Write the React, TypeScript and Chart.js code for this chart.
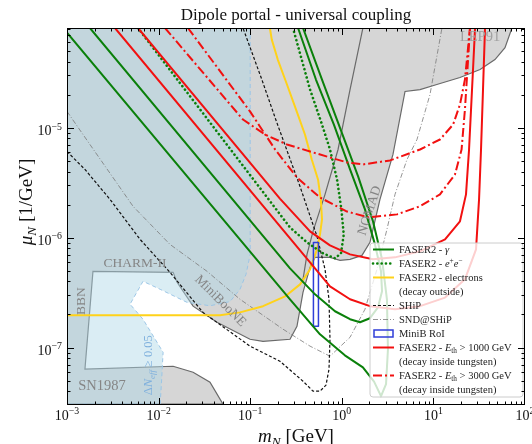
import React, { useEffect, useRef } from 'react';
import { Chart, registerables } from 'chart.js';

Chart.register(...registerables);

const FONT = '"Liberation Serif", "Times New Roman", serif';

// ---------- axes ----------
const X_MIN = 1e-3;
const X_MAX = 100;
const Y_MIN = 3.05e-8;
const Y_MAX = 8.1e-5;
const xLabeledTicks = [1e-3, 1e-2, 1e-1, 1, 10, 100];
const xTickExponents = ['−3', '−2', '−1', '0', '1', '2'];
const yLabeledTicks = [1e-7, 1e-6, 1e-5];
const yTickExponents = ['−7', '−6', '−5'];
const xDecades = [-3, -2, -1, 0, 1];
const yDecades = [-8, -7, -6, -5];

// ---------- excluded regions ----------
const greyExcludedRegion = [
  [1e-3, 8.1e-5], [1e-3, 3.05e-8], [0.0505, 3.05e-8], [0.0364, 4.84e-8], [0.0238, 5.96e-8],
  [0.0144, 6.76e-8], [0.00157, 6.35e-8], [0.00192, 4.94e-7], [0.0144, 4.84e-7], [0.0159, 3.93e-7],
  [0.0238, 2.38e-7], [0.0434, 1.7e-7], [0.0995, 1.19e-7], [0.138, 1.14e-7], [0.272, 1.19e-7],
  [0.324, 1.56e-7], [0.377, 3.18e-7], [0.45, 5.37e-7], [0.51, 6.62e-7], [0.743, 6.62e-7],
  [0.957, 6.22e-7], [1.23, 6.35e-7], [1.66, 6.9e-7], [2.03, 9.06e-7], [2.61, 2.23e-6],
  [3.62, 5.72e-6], [4.9, 2.14e-5], [7.14, 2.23e-5], [10.9, 2.48e-5], [19.5, 2.87e-5],
  [32.3, 3.39e-5], [47.0, 4.18e-5], [60.5, 5.37e-5], [72, 8.1e-5],
];
const nomadEdge = [
  [1.7, 8.1e-5], [1.23, 2.23e-5], [0.91, 6.35e-6], [0.656, 2.48e-6], [0.485, 1.14e-6],
  [0.417, 7.05e-7], [0.377, 4.18e-7],
];
const deltaNeffRegion = [
  [0.1, 8.1e-5], [0.1, 7.05e-7], [0.09, 4.64e-7], [0.0774, 3.39e-7], [0.0602, 2.62e-7],
  [0.0364, 2.4e-7], [0.0204, 2.58e-7], [0.0104, 3.39e-7], [0.00676, 4.01e-7], [0.00488, 2.48e-7],
  [0.00676, 1.81e-7], [0.0112, 9.06e-8], [0.0108, 5.15e-8], [0.0104, 3.05e-8], [1e-3, 3.05e-8],
  [1e-3, 8.1e-5],
];

// ---------- sensitivity curves ----------
const faser2GammaOuter = [
  [1e-3, 7.35e-5], [0.272, 2.75e-7], [0.578, 1.32e-7], [1.08, 8.5e-8], [1.7, 6.6e-8],
  [2.25, 4.9e-8], [2.68, 3.61e-8], [3.04, 4.64e-8], [3.19, 9.66e-8], [3.11, 2.75e-7],
  [2.75, 6.35e-7], [2.19, 1.41e-6], [1.51, 3.6e-6], [0.99, 9.25e-6], [0.608, 2.75e-5], [0.377, 8.1e-5],
];
const faser2GammaInner = [
  [1.78e-3, 8.1e-5], [0.272, 5.26e-7], [0.51, 3.05e-7], [0.843, 2.14e-7], [1.23, 1.81e-7],
  [1.58, 1.7e-7], [2.03, 1.85e-7], [2.48, 2.32e-7], [2.75, 3.25e-7], [2.68, 4.94e-7],
  [2.3, 8.69e-7], [1.79, 1.81e-6], [1.23, 4.18e-6], [0.82, 1.07e-5], [0.522, 2.75e-5], [0.333, 8.1e-5],
];
const faser2EE = [
  [5.96e-3, 8.1e-5], [0.272, 1.24e-6], [0.417, 9.06e-7], [0.624, 7.2e-7], [0.843, 6.49e-7],
  [0.98, 7.2e-7], [1.05, 1.07e-6], [0.99, 1.81e-6], [0.887, 3.39e-6], [0.743, 6.35e-6],
  [0.608, 1.07e-5], [0.45, 2.23e-5], [0.293, 8.1e-5],
];
const faser2Electrons = [
  [1e-3, 1.97e-7], [0.0468, 1.97e-7], [0.0774, 2.09e-7], [0.138, 2.38e-7], [0.24, 2.92e-7],
  [0.35, 3.76e-7], [0.45, 5.15e-7], [0.536, 7.83e-7], [0.578, 1.07e-6], [0.608, 1.47e-6],
  [0.59, 2.23e-6], [0.55, 3.39e-6], [0.47, 5.15e-6], [0.396, 8.69e-6], [0.316, 1.47e-5],
  [0.252, 2.48e-5], [0.2, 4.18e-5], [0.172, 6.35e-5], [0.164, 8.1e-5],
];
const ship = [
  [1e-3, 6.09e-6], [1.57e-3, 4.18e-6], [2.95e-3, 2.23e-6], [6.27e-3, 9.66e-7], [0.0133, 4.84e-7],
  [0.0305, 2.09e-7], [0.0995, 1.03e-7], [0.211, 7.51e-8], [0.377, 4.94e-8], [0.485, 4.01e-8],
  [0.578, 4.01e-8], [0.672, 4.55e-8], [0.725, 6.35e-8], [0.743, 1.19e-7], [0.725, 2.75e-7],
  [0.656, 5.15e-7], [0.536, 1.03e-6], [0.35, 2.92e-6], [0.19, 1.19e-5], [0.134, 2.75e-5], [0.0834, 8.1e-5],
];
const sndShip = [
  [1e-3, 1.41e-5], [1.78e-3, 7.05e-6], [5.26e-3, 1.93e-6], [0.0133, 8.69e-7], [0.0338, 4.94e-7],
  [0.0774, 2.75e-7], [0.228, 1.47e-7], [0.45, 1.03e-7], [0.743, 8.34e-8], [1.23, 1.24e-7],
  [1.79, 2.23e-7], [2.42, 5.15e-7], [3.11, 1.19e-6], [3.81, 2.48e-6], [5.15, 5.15e-6],
  [6.62, 7.83e-6], [9.18, 2.01e-5], [12.4, 8.1e-5],
];
const faser2E1000Outer = [
  [3.34e-3, 8.1e-5], [0.35, 7.67e-7], [0.743, 3.61e-7], [1.23, 2.75e-7], [2.03, 2.38e-7],
  [3.81, 2.23e-7], [7.14, 2.38e-7], [13.4, 2.85e-7], [22.1, 4.18e-7], [29.2, 7.83e-7],
  [31.5, 2.23e-6], [33.1, 6.35e-6], [34.8, 2.23e-5], [36.6, 8.1e-5],
];
const faser2E1000Inner = [
  [5.96e-3, 8.1e-5], [0.211, 2.27e-6], [0.45, 1.14e-6], [0.743, 8.5e-7], [1.23, 7.05e-7],
  [2.19, 6.35e-7], [3.81, 6.62e-7], [7.14, 7.51e-7], [13.4, 9.66e-7], [19.5, 1.41e-6],
  [22.7, 2.48e-6], [24.5, 6.35e-6], [26.4, 2.23e-5], [28.5, 8.1e-5],
];
const faser2E3000Outer = [
  [0.01175, 8.1e-5], [0.0834, 1.19e-5], [0.145, 8.69e-6], [0.252, 7.05e-6], [0.485, 5.97e-6],
  [1.14, 4.84e-6], [1.7, 4.64e-6], [3.36, 5.05e-6], [7.14, 6.35e-6], [11.8, 7.83e-6],
  [16.4, 1.07e-5], [19.5, 1.63e-5], [22.1, 2.75e-5], [25.1, 8.1e-5],
];
const faser2E3000Inner = [
  [0.0209, 8.1e-5], [0.0995, 1.41e-5], [0.187, 6.35e-6], [0.324, 3.53e-6], [0.578, 2.32e-6],
  [1.14, 1.73e-6], [1.95, 1.53e-6], [4.01, 1.63e-6], [7.14, 1.93e-6], [11.8, 2.48e-6],
  [17.2, 3.76e-6], [20.3, 6.35e-6], [22.1, 1.47e-5], [23.9, 4.18e-5], [25.1, 8.1e-5],
];
const miniBRoiX = [0.49, 0.556];
const miniBRoiY = [1.56e-7, 9.06e-7];

// ---------- text ----------
type Part = { t: string; it?: boolean; sub?: boolean; sup?: boolean };
const titleText = 'Dipole portal - universal coupling';
const xTitle: Part[] = [{ t: 'm', it: true }, { t: 'N', it: true, sub: true }, { t: ' [GeV]' }];
const yTitle: Part[] = [{ t: 'μ', it: true }, { t: 'N', it: true, sub: true }, { t: ' [1/GeV]' }];

const regionLabels = [
  { parts: [{ t: 'LEP91' }], x: 32.3, y: 6.76e-5, angle: 0, size: 14.5, color: '#a0a0a0' },
  { parts: [{ t: 'NOMAD' }], x: 1.98, y: 1.77e-6, angle: -72, size: 13.5, color: '#858585' },
  { parts: [{ t: 'MiniBooNE' }], x: 0.048, y: 2.69e-7, angle: 45, size: 13.5, color: '#858585' },
  { parts: [{ t: 'CHARM-II' }], x: 0.00552, y: 5.96e-7, angle: 0, size: 13.5, color: '#858585' },
  { parts: [{ t: 'BBN' }], x: 0.00142, y: 2.64e-7, angle: -90, size: 13.5, color: '#858585' },
  { parts: [{ t: 'SN1987' }], x: 0.00241, y: 4.54e-8, angle: 0, size: 14.5, color: '#858585' },
  {
    parts: [{ t: 'Δ' }, { t: 'N', it: true }, { t: 'eff', it: true, sub: true }, { t: ' ≥ 0.05' }],
    x: 0.00766, y: 6.9e-8, angle: -90, size: 12.5, color: '#7fb0dd',
  },
];

const legendLabels: Part[][] = [
  [{ t: 'FASER2 - ' }, { t: 'γ', it: true }],
  [{ t: 'FASER2 - ' }, { t: 'e', it: true }, { t: '+', sup: true }, { t: 'e', it: true }, { t: '−', sup: true }],
  [{ t: 'FASER2 - electrons' }],
  [{ t: '(decay outside)' }],
  [{ t: 'SHiP' }],
  [{ t: 'SND@SHiP' }],
  [{ t: 'MiniB RoI' }],
  [{ t: 'FASER2 - ' }, { t: 'E', it: true }, { t: 'th', sub: true }, { t: ' > 1000 GeV' }],
  [{ t: '(decay inside tungsten)' }],
  [{ t: 'FASER2 - ' }, { t: 'E', it: true }, { t: 'th', sub: true }, { t: ' > 3000 GeV' }],
  [{ t: '(decay inside tungsten)' }],
];
const legendHandles = ['gamma', 'ee', 'electrons', '', 'ship', 'snd', 'roi', 'e1000', '', 'e3000', ''];

// ---------- styles ----------
const STY: Record<string, { color: string; width: number; dash: number[]; cap?: string }> = {
  gamma: { color: '#0a800a', width: 2, dash: [] },
  ee: { color: '#0a800a', width: 2.6, dash: [0.1, 4.2], cap: 'round' },
  electrons: { color: '#ffd21a', width: 2, dash: [] },
  ship: { color: '#111111', width: 1.2, dash: [3, 2] },
  snd: { color: '#7a7a7a', width: 0.8, dash: [5, 2, 1, 2] },
  roi: { color: '#2f3ed8', width: 1.5, dash: [] },
  e1000: { color: '#f21010', width: 2, dash: [] },
  e3000: { color: '#f21010', width: 2, dash: [9, 3, 2, 3] },
};

const pts = (a: number[][]) => a.map(([x, y]) => ({ x, y }));

function lineDs(label: string, data: number[][], sty: string, order: number) {
  const s = STY[sty];
  return {
    label,
    data: pts(data),
    showLine: true,
    borderColor: s.color,
    backgroundColor: s.color,
    borderWidth: s.width,
    borderDash: s.dash,
    borderCapStyle: s.cap || 'butt',
    borderJoinStyle: 'round',
    pointRadius: 0,
    pointHoverRadius: 0,
    fill: false,
    tension: 0,
    order,
  };
}

function drawRich(ctx: CanvasRenderingContext2D, parts: Part[], x: number, y: number, size: number, align: string, color: string) {
  const fontOf = (p: Part) => `${p.it ? 'italic ' : ''}${p.sub || p.sup ? (size * 0.7).toFixed(1) : size}px ${FONT}`;
  let w = 0;
  const ws = parts.map((p) => {
    ctx.font = fontOf(p);
    const m = ctx.measureText(p.t).width;
    w += m;
    return m;
  });
  let cx = align === 'left' ? x : align === 'center' ? x - w / 2 : x - w;
  const base = y + size * 0.33;
  ctx.fillStyle = color;
  ctx.textBaseline = 'alphabetic';
  ctx.textAlign = 'left';
  parts.forEach((p, i) => {
    ctx.font = fontOf(p);
    const dy = p.sup ? -size * 0.42 : p.sub ? size * 0.22 : 0;
    ctx.fillText(p.t, cx, base + dy);
    cx += ws[i];
  });
}

const decorPlugin = {
  id: 'decor',
  afterDatasetsDraw(chart: any) {
    const { ctx, chartArea: a } = chart;
    const xs = chart.scales.x;
    const ys = chart.scales.y;
    const px = (v: number) => xs.getPixelForValue(v);
    const py = (v: number) => ys.getPixelForValue(v);
    ctx.save();

    // region labels
    for (const l of regionLabels) {
      ctx.save();
      ctx.translate(px(l.x), py(l.y));
      ctx.rotate((l.angle * Math.PI) / 180);
      drawRich(ctx, l.parts as Part[], 0, 0, l.size, 'center', l.color);
      ctx.restore();
    }

    // legend
    const lx1 = a.right - 2;
    const ly1 = a.bottom - 8;
    const lx0 = lx1 - 153;
    const ly0 = ly1 - 154;
    ctx.beginPath();
    const r = 3;
    ctx.moveTo(lx0 + r, ly0);
    ctx.lineTo(lx1 - r, ly0);
    ctx.quadraticCurveTo(lx1, ly0, lx1, ly0 + r);
    ctx.lineTo(lx1, ly1 - r);
    ctx.quadraticCurveTo(lx1, ly1, lx1 - r, ly1);
    ctx.lineTo(lx0 + r, ly1);
    ctx.quadraticCurveTo(lx0, ly1, lx0, ly1 - r);
    ctx.lineTo(lx0, ly0 + r);
    ctx.quadraticCurveTo(lx0, ly0, lx0 + r, ly0);
    ctx.closePath();
    ctx.fillStyle = 'rgba(255,255,255,0.8)';
    ctx.fill();
    ctx.strokeStyle = '#cccccc';
    ctx.lineWidth = 1;
    ctx.setLineDash([]);
    ctx.stroke();
    legendLabels.forEach((parts, i) => {
      const yy = ly0 + 6.5 + 14 * i;
      const h = legendHandles[i];
      if (h) {
        const s = STY[h];
        ctx.save();
        ctx.strokeStyle = s.color;
        ctx.lineWidth = s.width;
        ctx.setLineDash(s.dash);
        ctx.lineCap = (s.cap as CanvasLineCap) || 'butt';
        if (h === 'roi') {
          ctx.strokeRect(lx0 + 4, yy - 3.5, 19, 7);
        } else {
          ctx.beginPath();
          ctx.moveTo(lx0 + 3, yy);
          ctx.lineTo(lx0 + 24, yy);
          ctx.stroke();
        }
        ctx.restore();
      }
      drawRich(ctx, parts, lx0 + 29, yy, 10.5, 'left', '#222');
    });

    // frame
    ctx.setLineDash([]);
    ctx.strokeStyle = '#000';
    ctx.lineWidth = 1;
    ctx.strokeRect(a.left + 0.5, a.top + 0.5, a.right - a.left - 1, a.bottom - a.top - 1);

    // ticks (inward, all sides)
    ctx.beginPath();
    const tickX = (v: number, len: number) => {
      const x = Math.round(px(v)) + 0.5;
      if (x < a.left || x > a.right) return;
      ctx.moveTo(x, a.bottom); ctx.lineTo(x, a.bottom - len);
      ctx.moveTo(x, a.top); ctx.lineTo(x, a.top + len);
    };
    const tickY = (v: number, len: number) => {
      const y = Math.round(py(v)) + 0.5;
      if (y < a.top || y > a.bottom) return;
      ctx.moveTo(a.left, y); ctx.lineTo(a.left + len, y);
      ctx.moveTo(a.right, y); ctx.lineTo(a.right - len, y);
    };
    for (const d of xDecades) for (let k = 2; k <= 9; k++) tickX(k * Math.pow(10, d), 3.5);
    for (const v of xLabeledTicks) tickX(v, 7);
    for (const d of yDecades) for (let k = 2; k <= 9; k++) {
      const v = k * Math.pow(10, d);
      if (v >= Y_MIN && v <= Y_MAX) tickY(v, 3.5);
    }
    for (const v of yLabeledTicks) tickY(v, 7);
    ctx.stroke();

    // tick labels
    xLabeledTicks.forEach((v, i) => {
      drawRich(ctx, [{ t: '10' }, { t: xTickExponents[i], sup: true }], px(v), a.bottom + 10, 14, 'center', '#111');
    });
    yLabeledTicks.forEach((v, i) => {
      drawRich(ctx, [{ t: '10' }, { t: yTickExponents[i], sup: true }], a.left - 5, py(v) + 3, 14, 'right', '#111');
    });

    // axis titles and title
    drawRich(ctx, xTitle, (a.left + a.right) / 2, 436, 19, 'center', '#111');
    ctx.save();
    ctx.translate(26, 202);
    ctx.rotate(-Math.PI / 2);
    drawRich(ctx, yTitle, 0, 0, 19, 'center', '#111');
    ctx.restore();
    drawRich(ctx, [{ t: titleText }], (a.left + a.right) / 2, 14, 17, 'center', '#111');

    ctx.restore();
  },
};

export default function App() {
  const ref = useRef<HTMLCanvasElement | null>(null);
  useEffect(() => {
    if (!ref.current) return;
    const roi = [
      [miniBRoiX[0], miniBRoiY[0]], [miniBRoiX[1], miniBRoiY[0]], [miniBRoiX[1], miniBRoiY[1]],
      [miniBRoiX[0], miniBRoiY[1]], [miniBRoiX[0], miniBRoiY[0]],
    ];
    const datasets: any[] = [
      {
        label: 'excluded', data: pts(greyExcludedRegion), showLine: true, fill: 'shape',
        backgroundColor: '#d6d6d6', borderColor: '#6a6a6a', borderWidth: 1.2, pointRadius: 0, tension: 0, order: 30,
      },
      {
        label: 'NOMAD edge', data: pts(nomadEdge), showLine: true, fill: false,
        borderColor: '#6a6a6a', borderWidth: 1.2, pointRadius: 0, tension: 0, order: 29,
      },
      {
        label: 'ΔNeff', data: pts(deltaNeffRegion), showLine: true, fill: 'shape',
        backgroundColor: 'rgba(173,216,230,0.45)', borderColor: '#9cc6e6', borderWidth: 1, borderDash: [4, 3],
        pointRadius: 0, tension: 0, order: 28,
      },
      lineDs('SND@SHiP', sndShip, 'snd', 12),
      lineDs('SHiP', ship, 'ship', 11),
      lineDs('FASER2 - electrons', faser2Electrons, 'electrons', 10),
      lineDs('MiniB RoI', roi, 'roi', 9),
      lineDs('FASER2 - e+e-', faser2EE, 'ee', 8),
      lineDs('FASER2 - gamma (outer)', faser2GammaOuter, 'gamma', 7),
      lineDs('FASER2 - gamma (inner)', faser2GammaInner, 'gamma', 6),
      lineDs('FASER2 - Eth > 3000 GeV (a)', faser2E3000Outer, 'e3000', 5),
      lineDs('FASER2 - Eth > 3000 GeV (b)', faser2E3000Inner, 'e3000', 4),
      lineDs('FASER2 - Eth > 1000 GeV (a)', faser2E1000Outer, 'e1000', 3),
      lineDs('FASER2 - Eth > 1000 GeV (b)', faser2E1000Inner, 'e1000', 2),
    ];
    const chart = new Chart(ref.current, {
      type: 'scatter',
      data: { datasets },
      options: {
        animation: false,
        responsive: false,
        devicePixelRatio: 1,
        events: [],
        layout: { padding: { top: 28, right: 7, bottom: 0, left: 0 } },
        plugins: { legend: { display: false }, tooltip: { enabled: false }, title: { display: false } },
        scales: {
          x: {
            type: 'logarithmic', min: X_MIN, max: X_MAX,
            grid: { display: false }, border: { display: false }, ticks: { display: false },
            afterFit: (s: any) => { s.height = 39; },
          },
          y: {
            type: 'logarithmic', min: Y_MIN, max: Y_MAX,
            grid: { display: false }, border: { display: false }, ticks: { display: false },
            afterFit: (s: any) => { s.width = 67; },
          },
        },
      } as any,
      plugins: [decorPlugin],
    } as any);
    return () => chart.destroy();
  }, []);
  return (
    <div style={{ position: 'absolute', left: 0, top: 0, width: 532, height: 444, background: '#fff' }}>
      <canvas ref={ref} width={532} height={444} style={{ display: 'block' }} />
    </div>
  );
}
